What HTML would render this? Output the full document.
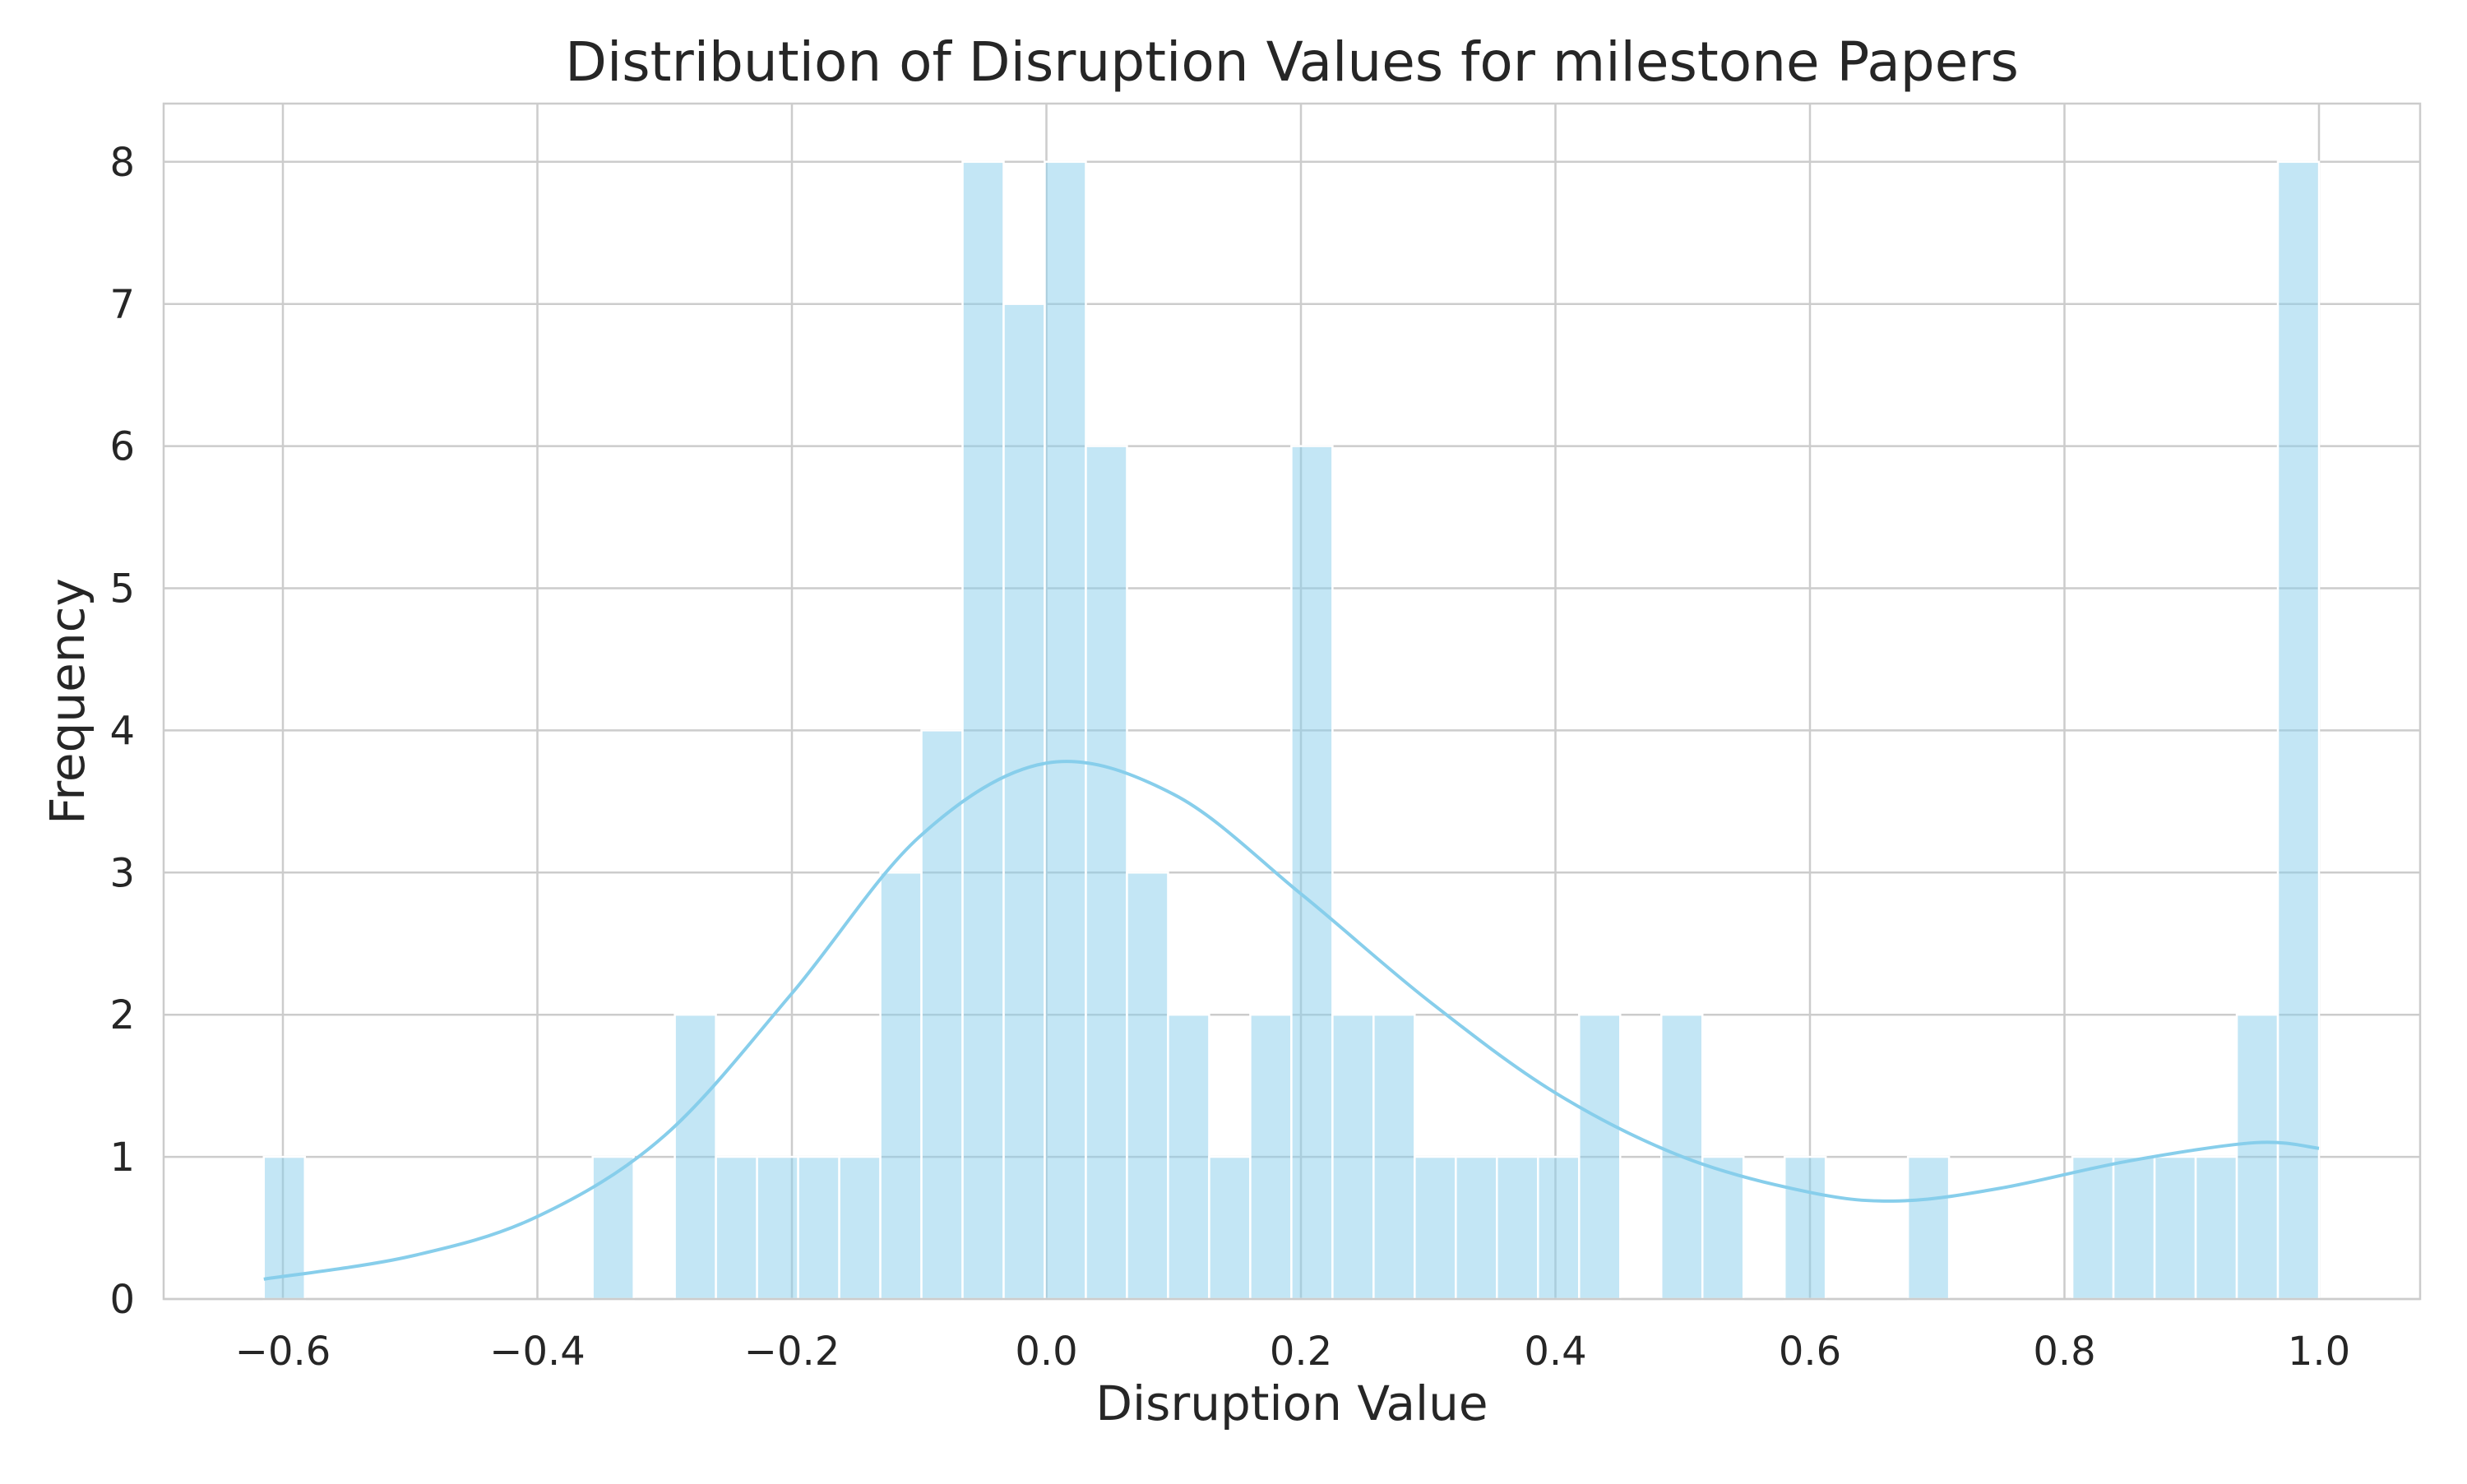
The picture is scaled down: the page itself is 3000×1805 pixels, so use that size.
<!DOCTYPE html>
<html><head><meta charset="utf-8"><style>
html,body{margin:0;padding:0;background:#fff}
svg text{font-family:"DejaVu Sans","Liberation Sans",sans-serif;fill:#262626}
</style></head><body>
<svg id="chart" width="3000" height="1800" xmlns="http://www.w3.org/2000/svg">
<rect width="3000" height="1800" fill="#fff"/>
<g id="grid"></g>
<g id="bars"></g>
<path id="kde" fill="none" stroke="#87ceeb" stroke-width="4"/>
<rect x="199" y="126" width="2744" height="1454" fill="none" stroke="#cccccc" stroke-width="2.5"/>
<g id="ticks"></g>
<text x="1571" y="98" font-size="66" text-anchor="middle">Distribution of Disruption Values for milestone Papers</text>
<text x="1571" y="1727" font-size="58" text-anchor="middle">Disruption Value</text>
<text x="0" y="0" font-size="58" text-anchor="middle" transform="translate(102,853) rotate(-90)">Frequency</text>
</svg>
<script>
const binMin = -0.615;
const binMax = 1.0;
const counts = [1,0,0,0,0,0,0,0,1,0,2,1,1,1,1,3,4,8,7,8,6,3,2,1,2,6,2,2,1,1,1,1,2,0,2,1,0,1,0,0,1,0,0,0,1,1,1,1,2,8];
const xTicks = [-0.6,-0.4,-0.2,0.0,0.2,0.4,0.6,0.8,1.0];
const xTickLabels = ["\u22120.6","\u22120.4","\u22120.2","0.0","0.2","0.4","0.6","0.8","1.0"];
const yTicks = [0,1,2,3,4,5,6,7,8];
const kdeX = [-0.615,-0.5,-0.4,-0.3,-0.2,-0.1,0,0.1,0.2,0.3,0.4,0.5,0.6,0.67,0.75,0.85,0.95,1.0];
const kdeY = [0.14,0.3,0.58,1.15,2.15,3.25,3.77,3.55,2.85,2.1,1.45,1.0,0.75,0.69,0.78,0.97,1.1,1.06];

const NS="http://www.w3.org/2000/svg";
const X = v => 344 + (v + 0.6) * 1547.5;
const Y = v => 1580 - v * 172.9;
function mk(tag, attrs, parent){const e=document.createElementNS(NS,tag);for(const k in attrs)e.setAttribute(k,attrs[k]);parent.appendChild(e);return e;}
const grid=document.getElementById('grid'), bars=document.getElementById('bars'), ticks=document.getElementById('ticks');
xTicks.forEach((t,i)=>{
  const l=mk('line',{x1:X(t),x2:X(t),y1:126,y2:1580,stroke:'#cccccc','stroke-width':2.5},grid);
  
  
  const tx=mk('text',{x:X(t),y:1660,'font-size':48,'text-anchor':'middle'},ticks);
  tx.textContent=xTickLabels[i];
  
  
});
yTicks.forEach(t=>{
  const l=mk('line',{x1:199,x2:2943,y1:Y(t),y2:Y(t),stroke:'#cccccc','stroke-width':2.5},grid);
  
  
  const tx=mk('text',{x:164,y:Y(t)+17,'font-size':48,'text-anchor':'end'},ticks);
  tx.textContent=String(t);
  
  
});
const bw=(binMax-binMin)/counts.length;
counts.forEach((c,i)=>{
  if(c<=0) return;
  const x0=X(binMin+i*bw), x1=X(binMin+(i+1)*bw);
  const r=mk('rect',{x:x0,y:Y(c),width:x1-x0,height:Y(0)-Y(c),fill:'#87ceeb','fill-opacity':0.5,stroke:'#ffffff','stroke-width':2.5},bars);
  
  
});
const pts=kdeX.map((x,i)=>[X(x),Y(kdeY[i])]);
let d='M'+pts[0][0]+','+pts[0][1];
for(let i=0;i<pts.length-1;i++){
  const p0=pts[Math.max(0,i-1)],p1=pts[i],p2=pts[i+1],p3=pts[Math.min(pts.length-1,i+2)];
  const c1=[p1[0]+(p2[0]-p0[0])/6,p1[1]+(p2[1]-p0[1])/6];
  const c2=[p2[0]-(p3[0]-p1[0])/6,p2[1]-(p3[1]-p1[1])/6];
  d+=` C${c1[0]},${c1[1]} ${c2[0]},${c2[1]} ${p2[0]},${p2[1]}`;
}
document.getElementById('kde').setAttribute('d',d);
</script>
</body></html>
